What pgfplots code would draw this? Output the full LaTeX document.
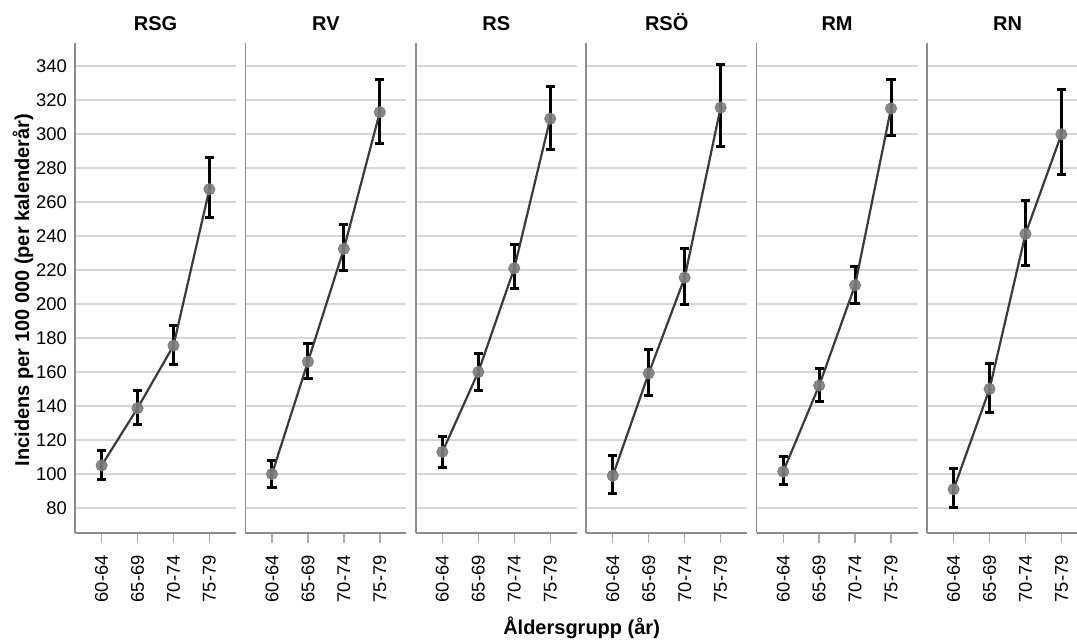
\documentclass[border=0pt]{standalone}
\usepackage{fontspec}
\setmainfont{Liberation Sans}
\usepackage{pgfplots}
\usepackage{pgfplotstable}
\pgfplotsset{compat=1.18}
\definecolor{gridc}{HTML}{D6D6D6}
\definecolor{axc}{HTML}{8C8C8C}
\definecolor{markc}{HTML}{7C7C7C}
\definecolor{linec}{HTML}{3A3A3A}

% columns: group, mean, upper and lower limit of the interval
\pgfplotstableread{
x y hi lo
0 105.0 114.0 97.0
1 138.7 149.0 129.0
2 175.5 187.5 164.5
3 267.5 286.0 251.0
}\tRSG
\pgfplotstableread{
x y hi lo
0 100.0 108.0 92.0
1 166.0 177.0 156.0
2 232.4 246.5 219.6
3 312.8 331.8 294.5
}\tRV
\pgfplotstableread{
x y hi lo
0 113.0 122.0 104.0
1 160.0 171.0 149.0
2 221.0 235.0 209.0
3 309.0 328.0 291.0
}\tRS
\pgfplotstableread{
x y hi lo
0 99.0 110.8 88.6
1 159.2 173.5 145.9
2 215.5 232.7 199.8
3 315.5 340.6 292.5
}\tRSO
\pgfplotstableread{
x y hi lo
0 101.4 110.2 93.9
1 152.0 161.8 142.5
2 211.0 222.0 200.0
3 315.0 332.0 299.0
}\tRM
\pgfplotstableread{
x y hi lo
0 91.0 103.3 80.2
1 150.0 165.0 136.0
2 241.2 260.8 222.5
3 299.8 326.3 275.9
}\tRN

\pgfplotsset{
  panel/.style={
    scale only axis, width=80.5pt, height=245pt, anchor=south west,
    xmin=-0.74, xmax=3.74, ymin=65.3, ymax=353.5,
    axis x line*=bottom, axis y line*=left,
    axis line style={-, axc, line width=0.8pt},
    xtick={0,1,2,3}, xticklabels={60-64,65-69,70-74,75-79},
    ytick={80,100,...,340},
    tick align=outside, major tick length=5pt,
    x tick style={gridc!80!black, line width=0.7pt},
    y tick style={draw=none},
    ymajorgrids, grid style={gridc, line width=0.9pt},
    tick label style={font=\fontsize{9.2}{10}\selectfont},
    xticklabel style={rotate=90, anchor=east, inner sep=6pt},
    yticklabel style={xshift=4.5pt},
    /pgf/number format/assume math mode=true,
    /pgf/number format/1000 sep={},
    title style={at={(0.5,1)}, anchor=base, font=\fontsize{10}{12}\selectfont\bfseries},
    clip=false,
  },
  rest/.style={yticklabels={}},
}
\newcommand{\series}[1]{%
  \addplot[draw=none, mark=none, forget plot,
    error bars/.cd, y dir=both, y explicit,
    error bar style={black, line width=1.5pt},
    error mark options={rotate=90, black, mark size=2.3pt, line width=1.5pt}]
    table[x=x, y=y, y error plus expr=\thisrow{hi}-\thisrow{y}, y error minus expr=\thisrow{y}-\thisrow{lo}] {#1};
  \addplot[draw=none, mark=*, mark size=2.8pt, mark options={fill=markc, draw=markc, fill opacity=0.9}] table[x=x, y=y] {#1};
  \addplot[linec, line width=1.1pt, mark=none] table[x=x, y=y] {#1};
}

\begin{document}
\begin{tikzpicture}
\useasboundingbox (0,0) rectangle (538.5pt,321pt);
\begin{axis}[panel, at={(37.5pt,54.5pt)}, title={RSG}]
\series{\tRSG}
\end{axis}
\begin{axis}[panel, rest, at={(122.7pt,54.5pt)}, title={RV}]
\series{\tRV}
\end{axis}
\begin{axis}[panel, rest, at={(207.9pt,54.5pt)}, title={RS}]
\series{\tRS}
\end{axis}
\begin{axis}[panel, rest, at={(293.1pt,54.5pt)}, title={RSÖ}]
\series{\tRSO}
\end{axis}
\begin{axis}[panel, rest, at={(378.3pt,54.5pt)}, title={RM}]
\series{\tRM}
\end{axis}
\begin{axis}[panel, rest, at={(463.5pt,54.5pt)}, title={RN}]
\series{\tRN}
\end{axis}
\node[rotate=90, font=\fontsize{10}{12}\selectfont\bfseries] at (11.5pt,176pt) {Incidens per 100 000 (per kalenderår)};
\node[anchor=base, font=\fontsize{10}{12}\selectfont\bfseries] at (290.8pt,3.5pt) {Åldersgrupp (år)};
\end{tikzpicture}
\end{document}
